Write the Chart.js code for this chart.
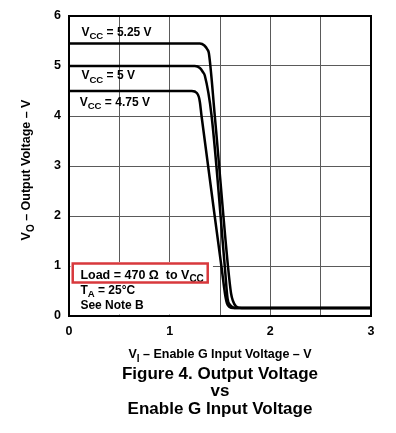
<!DOCTYPE html>
<html><head><meta charset="utf-8">
<script src="https://cdn.jsdelivr.net/npm/chart.js@4"></script>
<style>html,body{margin:0;padding:0;background:#fff}#wrap{position:relative;width:396px;height:433px}</style>
</head><body><div id="wrap"><canvas id="c" width="396" height="433"></canvas></div>
<script>
// ---- data ----
const xTicksMajor = [0, 1, 2, 3];
const yTicks = [0, 1, 2, 3, 4, 5, 6];
const seriesNames = ['VCC = 5.25 V', 'VCC = 5 V', 'VCC = 4.75 V'];
const vi525 = [0, 1.30, 1.345, 1.375, 1.39, 1.448, 1.58, 1.61, 1.627, 1.66, 1.714, 3];
const vo525 = [5.45, 5.45, 5.41, 5.33, 5.25, 4.01, 0.98, 0.45, 0.31, 0.19, 0.16, 0.16];
const vi500 = [0, 1.25, 1.30, 1.33, 1.349, 1.416, 1.548, 1.575, 1.60, 1.63, 1.664, 3];
const vo500 = [5.0, 5.0, 4.96, 4.88, 4.81, 4.01, 0.98, 0.35, 0.22, 0.17, 0.16, 0.16];
const vi475 = [0, 1.22, 1.27, 1.29, 1.30, 1.316, 1.515, 1.553, 1.57, 1.595, 1.63, 3];
const vo475 = [4.5, 4.5, 4.46, 4.38, 4.28, 4.01, 0.98, 0.40, 0.25, 0.18, 0.16, 0.16];

const FONT = '"Liberation Sans", Arial, Helvetica, sans-serif';
function pts(xs, ys) { return xs.map((x, i) => ({ x: x, y: ys[i] })); }
function drawRich(ctx, parts, x, y, size, align) {
  let w = 0;
  for (const [t, s] of parts) { ctx.font = 'bold ' + (s ? size * 0.8 : size) + 'px ' + FONT; w += ctx.measureText(t).width; }
  let cx = align === 'center' ? x - w / 2 : x;
  ctx.textAlign = 'left'; ctx.textBaseline = 'alphabetic';
  for (const [t, s] of parts) {
    ctx.font = 'bold ' + (s ? size * 0.8 : size) + 'px ' + FONT;
    ctx.fillText(t, cx, s ? y + size * 0.3 : y);
    cx += ctx.measureText(t).width;
  }
}

const annot = {
  id: 'annot',
  beforeDatasetsDraw(chart) {
    const { ctx, chartArea: a, scales: { x, y } } = chart;
    ctx.save();
    ctx.fillStyle = '#fff';
    ctx.fillRect(a.left + 1.5, y.getPixelForValue(1.08), x.getPixelForValue(1.43) - a.left - 1.5, a.bottom - 1.5 - y.getPixelForValue(1.08));
    ctx.restore();
  },
  afterDraw(chart) {
    const { ctx, chartArea: a, scales: { x, y } } = chart;
    ctx.save();
    ctx.fillStyle = '#000';
    ctx.strokeStyle = '#000'; ctx.lineWidth = 2;
    ctx.strokeRect(a.left, a.top, a.right - a.left, a.bottom - a.top);
    // curve labels
    drawRich(ctx, [['V', 0], ['CC', 1], [' = 5.25 V', 0]], x.getPixelForValue(0.123), y.getPixelForValue(5.61), 12);
    drawRich(ctx, [['V', 0], ['CC', 1], [' = 5 V', 0]], x.getPixelForValue(0.123), y.getPixelForValue(4.74), 12);
    drawRich(ctx, [['V', 0], ['CC', 1], [' = 4.75 V', 0]], x.getPixelForValue(0.106), y.getPixelForValue(4.21), 12);
    // conditions
    drawRich(ctx, [['Load = 470 \u03A9  to V', 0], ['CC', 1]], x.getPixelForValue(0.113), y.getPixelForValue(0.75), 12.5);
    drawRich(ctx, [['T', 0], ['A', 1], [' = 25\u00B0C', 0]], x.getPixelForValue(0.113), y.getPixelForValue(0.45), 12);
    drawRich(ctx, [['See Note B', 0]], x.getPixelForValue(0.113), y.getPixelForValue(0.134), 12);
    ctx.strokeStyle = '#d8383c'; ctx.lineWidth = 2.5;
    const bx0 = x.getPixelForValue(0.037), bx1 = x.getPixelForValue(1.378);
    const by0 = y.getPixelForValue(1.05), by1 = y.getPixelForValue(0.67);
    ctx.strokeRect(bx0, by0, bx1 - bx0, by1 - by0);
    // axis titles
    const cxm = (a.left + a.right) / 2;
    drawRich(ctx, [['V', 0], ['I', 1], [' \u2013 Enable G Input Voltage \u2013 V', 0]], cxm, a.bottom + 42, 12.5, 'center');
    ctx.save();
    ctx.translate(30, (a.top + a.bottom) / 2 + 4);
    ctx.rotate(-Math.PI / 2);
    drawRich(ctx, [['V', 0], ['O', 1], [' \u2013 Output Voltage \u2013 V', 0]], 0, 0, 12.5, 'center');
    ctx.restore();
    // caption
    ctx.font = 'bold 17px ' + FONT; ctx.textAlign = 'center'; ctx.textBaseline = 'alphabetic';
    ctx.fillText('Figure 4. Output Voltage', cxm, a.bottom + 63);
    ctx.fillText('vs', cxm, a.bottom + 80);
    ctx.fillText('Enable G Input Voltage', cxm, a.bottom + 97.5);
    ctx.restore();
  }
};

const ds = (d) => ({ data: d, borderColor: '#000', borderWidth: 2.5, pointRadius: 0, showLine: true, fill: false, cubicInterpolationMode: 'monotone' });

new Chart(document.getElementById('c'), {
  type: 'scatter',
  data: { datasets: [
    Object.assign(ds(pts(vi525, vo525)), { label: seriesNames[0] }),
    Object.assign(ds(pts(vi500, vo500)), { label: seriesNames[1] }),
    Object.assign(ds(pts(vi475, vo475)), { label: seriesNames[2] })
  ] },
  options: {
    responsive: false, animation: false, devicePixelRatio: 1,
    layout: { padding: { left: 0, right: 25, top: 16, bottom: 87 } },
    plugins: { legend: { display: false }, tooltip: { enabled: false }, title: { display: false } },
    scales: {
      x: {
        type: 'linear', min: 0, max: 3,
        afterFit(s) { s.height = 30; },
        ticks: { stepSize: 0.5, padding: 8, color: '#000', font: { family: FONT, size: 12.5, weight: 'bold' }, maxRotation: 0,
          callback: (v) => xTicksMajor.includes(v) ? String(v) : '' },
        grid: { color: '#5a5a5a', lineWidth: 1, drawTicks: false },
        border: { color: '#000', width: 2 }
      },
      y: {
        type: 'linear', min: 0, max: 6,
        afterFit(s) { s.width = 69; },
        ticks: { stepSize: 1, padding: 8, color: '#000', font: { family: FONT, size: 12.5, weight: 'bold' },
          callback: (v) => yTicks.includes(v) ? String(v) : '' },
        grid: { color: '#5a5a5a', lineWidth: 1, drawTicks: false },
        border: { color: '#000', width: 2 }
      }
    }
  },
  plugins: [annot]
});
</script></body></html>
